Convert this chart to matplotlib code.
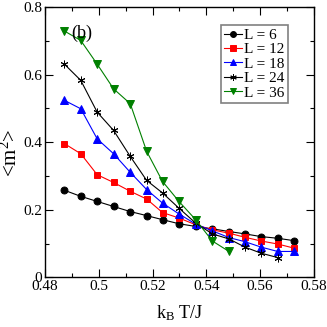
import numpy as np
import matplotlib
matplotlib.use('Agg')
import matplotlib.pyplot as plt
from matplotlib.ticker import MultipleLocator, FuncFormatter

plt.rcParams['font.family'] = ['Liberation Serif', 'DejaVu Serif']
plt.rcParams['mathtext.fontset'] = 'custom'
plt.rcParams['mathtext.rm'] = 'Liberation Serif'
plt.rcParams['mathtext.it'] = 'Liberation Serif'

temps = [0.4872, 0.4933, 0.4994, 0.5055, 0.5117, 0.5178, 0.5237, 0.5298,
         0.5360, 0.5422, 0.5484, 0.5543, 0.5603, 0.5665, 0.5725]

m2_L6 = [0.258, 0.240, 0.225, 0.210, 0.195, 0.183, 0.171, 0.159, 0.151,
         0.144, 0.136, 0.129, 0.121, 0.116, 0.109]
m2_L12 = [0.396, 0.366, 0.304, 0.281, 0.255, 0.232, 0.192, 0.176, 0.156,
          0.141, 0.131, 0.119, 0.108, 0.099, 0.087]
m2_L18 = [0.524, 0.499, 0.410, 0.366, 0.311, 0.260, 0.220, 0.188, 0.158,
          0.138, 0.118, 0.106, 0.090, 0.077, 0.077]
m2_L24 = [0.631, 0.583, 0.489, 0.435, 0.358, 0.287, 0.250, 0.205, 0.161,
          0.129, 0.114, 0.090, 0.072, 0.059]
m2_L36 = [0.729, 0.701, 0.631, 0.558, 0.514, 0.373, 0.284, 0.225, 0.171,
          0.108, 0.077]

series = [
    ('L = 6', m2_L6, 'black', 'o', 5.0),
    ('L = 12', m2_L12, 'red', 's', 4.6),
    ('L = 18', m2_L18, 'blue', '^', 5.2),
    ('L = 24', m2_L24, 'black', (6, 2, 0), 5.5),
    ('L = 36', m2_L36, 'green', 'v', 5.2),
]

fig = plt.figure(figsize=(3.27, 3.27), dpi=100)
ax = fig.add_axes([0.1376, 0.1514, 0.8226, 0.8272])

for label, vals, col, mk, ms in series:
    ax.plot(temps[:len(vals)], vals, color=col, marker=mk, markersize=ms,
            linewidth=0.8, label=label, markeredgewidth=0.7)

ax.set_xlim(0.48, 0.58)
ax.set_ylim(0, 0.8)
ax.xaxis.set_major_locator(MultipleLocator(0.02))
ax.xaxis.set_minor_locator(MultipleLocator(0.01))
ax.yaxis.set_major_locator(MultipleLocator(0.2))
ax.yaxis.set_minor_locator(MultipleLocator(0.1))
ax.xaxis.set_major_formatter(FuncFormatter(lambda v, p: '%g' % round(v, 2)))
ax.yaxis.set_major_formatter(FuncFormatter(lambda v, p: '%g' % round(v, 1)))
ax.tick_params(which='both', direction='in', top=True, right=True, labelsize=11)
ax.tick_params(which='major', length=6, width=0.8, pad=2)
ax.tick_params(which='minor', length=3, width=0.8)
for sp in ax.spines.values():
    sp.set_linewidth(1.0)

ax.set_xlabel(r'k$_\mathrm{B}$ T/J', fontsize=13)
ax.xaxis.set_label_coords(0.5, -0.095, transform=ax.transAxes)
ax.set_ylabel(r'<m$^2$>', fontsize=15)
ax.yaxis.set_label_coords(-0.085, 0.46, transform=ax.transAxes)
ax.text(0.4898, 0.708, '(b)', fontsize=13)

leg = ax.legend(loc='upper right', bbox_to_anchor=(0.903, 0.933), fontsize=11,
                handlelength=1.2, handletextpad=0.15, borderpad=0.2,
                labelspacing=0.05, borderaxespad=0, markerscale=0.85,
                fancybox=False, framealpha=1)
leg.get_frame().set_edgecolor('gray')
leg.get_frame().set_linewidth(1.2)

fig.savefig('out.png', dpi=100)
